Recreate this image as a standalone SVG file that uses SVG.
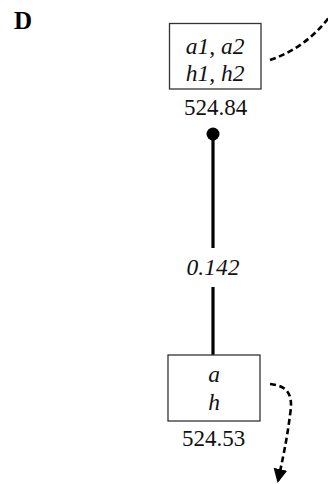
<svg xmlns="http://www.w3.org/2000/svg" width="328" height="484" viewBox="0 0 328 484">
<style>
.box{fill:#fff;stroke:#333;stroke-width:1.3}
.it{font-family:"Liberation Serif",serif;font-style:italic;font-size:23.5px;text-anchor:middle;fill:#111}
.num{font-family:"Liberation Serif",serif;font-size:23px;text-anchor:middle;fill:#111}
.dash{fill:none;stroke:#000;stroke-width:2.6;stroke-dasharray:6 3.5}
.solid{stroke:#000;stroke-width:3.2}
</style>
<defs>
<marker id="ah" markerWidth="14" markerHeight="14" viewBox="0 0 14 14" refX="12" refY="7" orient="auto" markerUnits="userSpaceOnUse">
<path d="M0,0 L14,7 L0,14 Z" fill="#000"/>
</marker>
</defs>
<rect width="328" height="484" fill="#fff"/>
<text x="14" y="29" font-family="Liberation Serif,serif" font-weight="bold" font-size="25" fill="#000">D</text>
<g id="connectors">
<line class="solid" x1="213" y1="134" x2="213" y2="248"/>
<line class="solid" x1="213" y1="287" x2="213" y2="355"/>
<circle cx="213" cy="134" r="6.5" fill="#000"/>
<text class="it" x="213" y="275">0.142</text>
<path class="dash" d="M270,60 Q306,48 330,16"/>
<path class="dash" d="M270,384 C290,386 293,397 290,415 C287,440 282,462 278,481" marker-end="url(#ah)"/>
</g>
<g id="node-top">
<rect class="box" x="169.5" y="23.5" width="91.5" height="65.5"/>
<text class="it" x="215" y="54">a1, a2</text>
<text class="it" x="215" y="81">h1, h2</text>
<text class="num" x="215.5" y="115">524.84</text>
</g>
<g id="node-bottom">
<rect class="box" x="168" y="355" width="92" height="66"/>
<text class="it" x="214" y="382">a</text>
<text class="it" x="214" y="410">h</text>
<text class="num" x="213.5" y="446">524.53</text>
</g>
</svg>
